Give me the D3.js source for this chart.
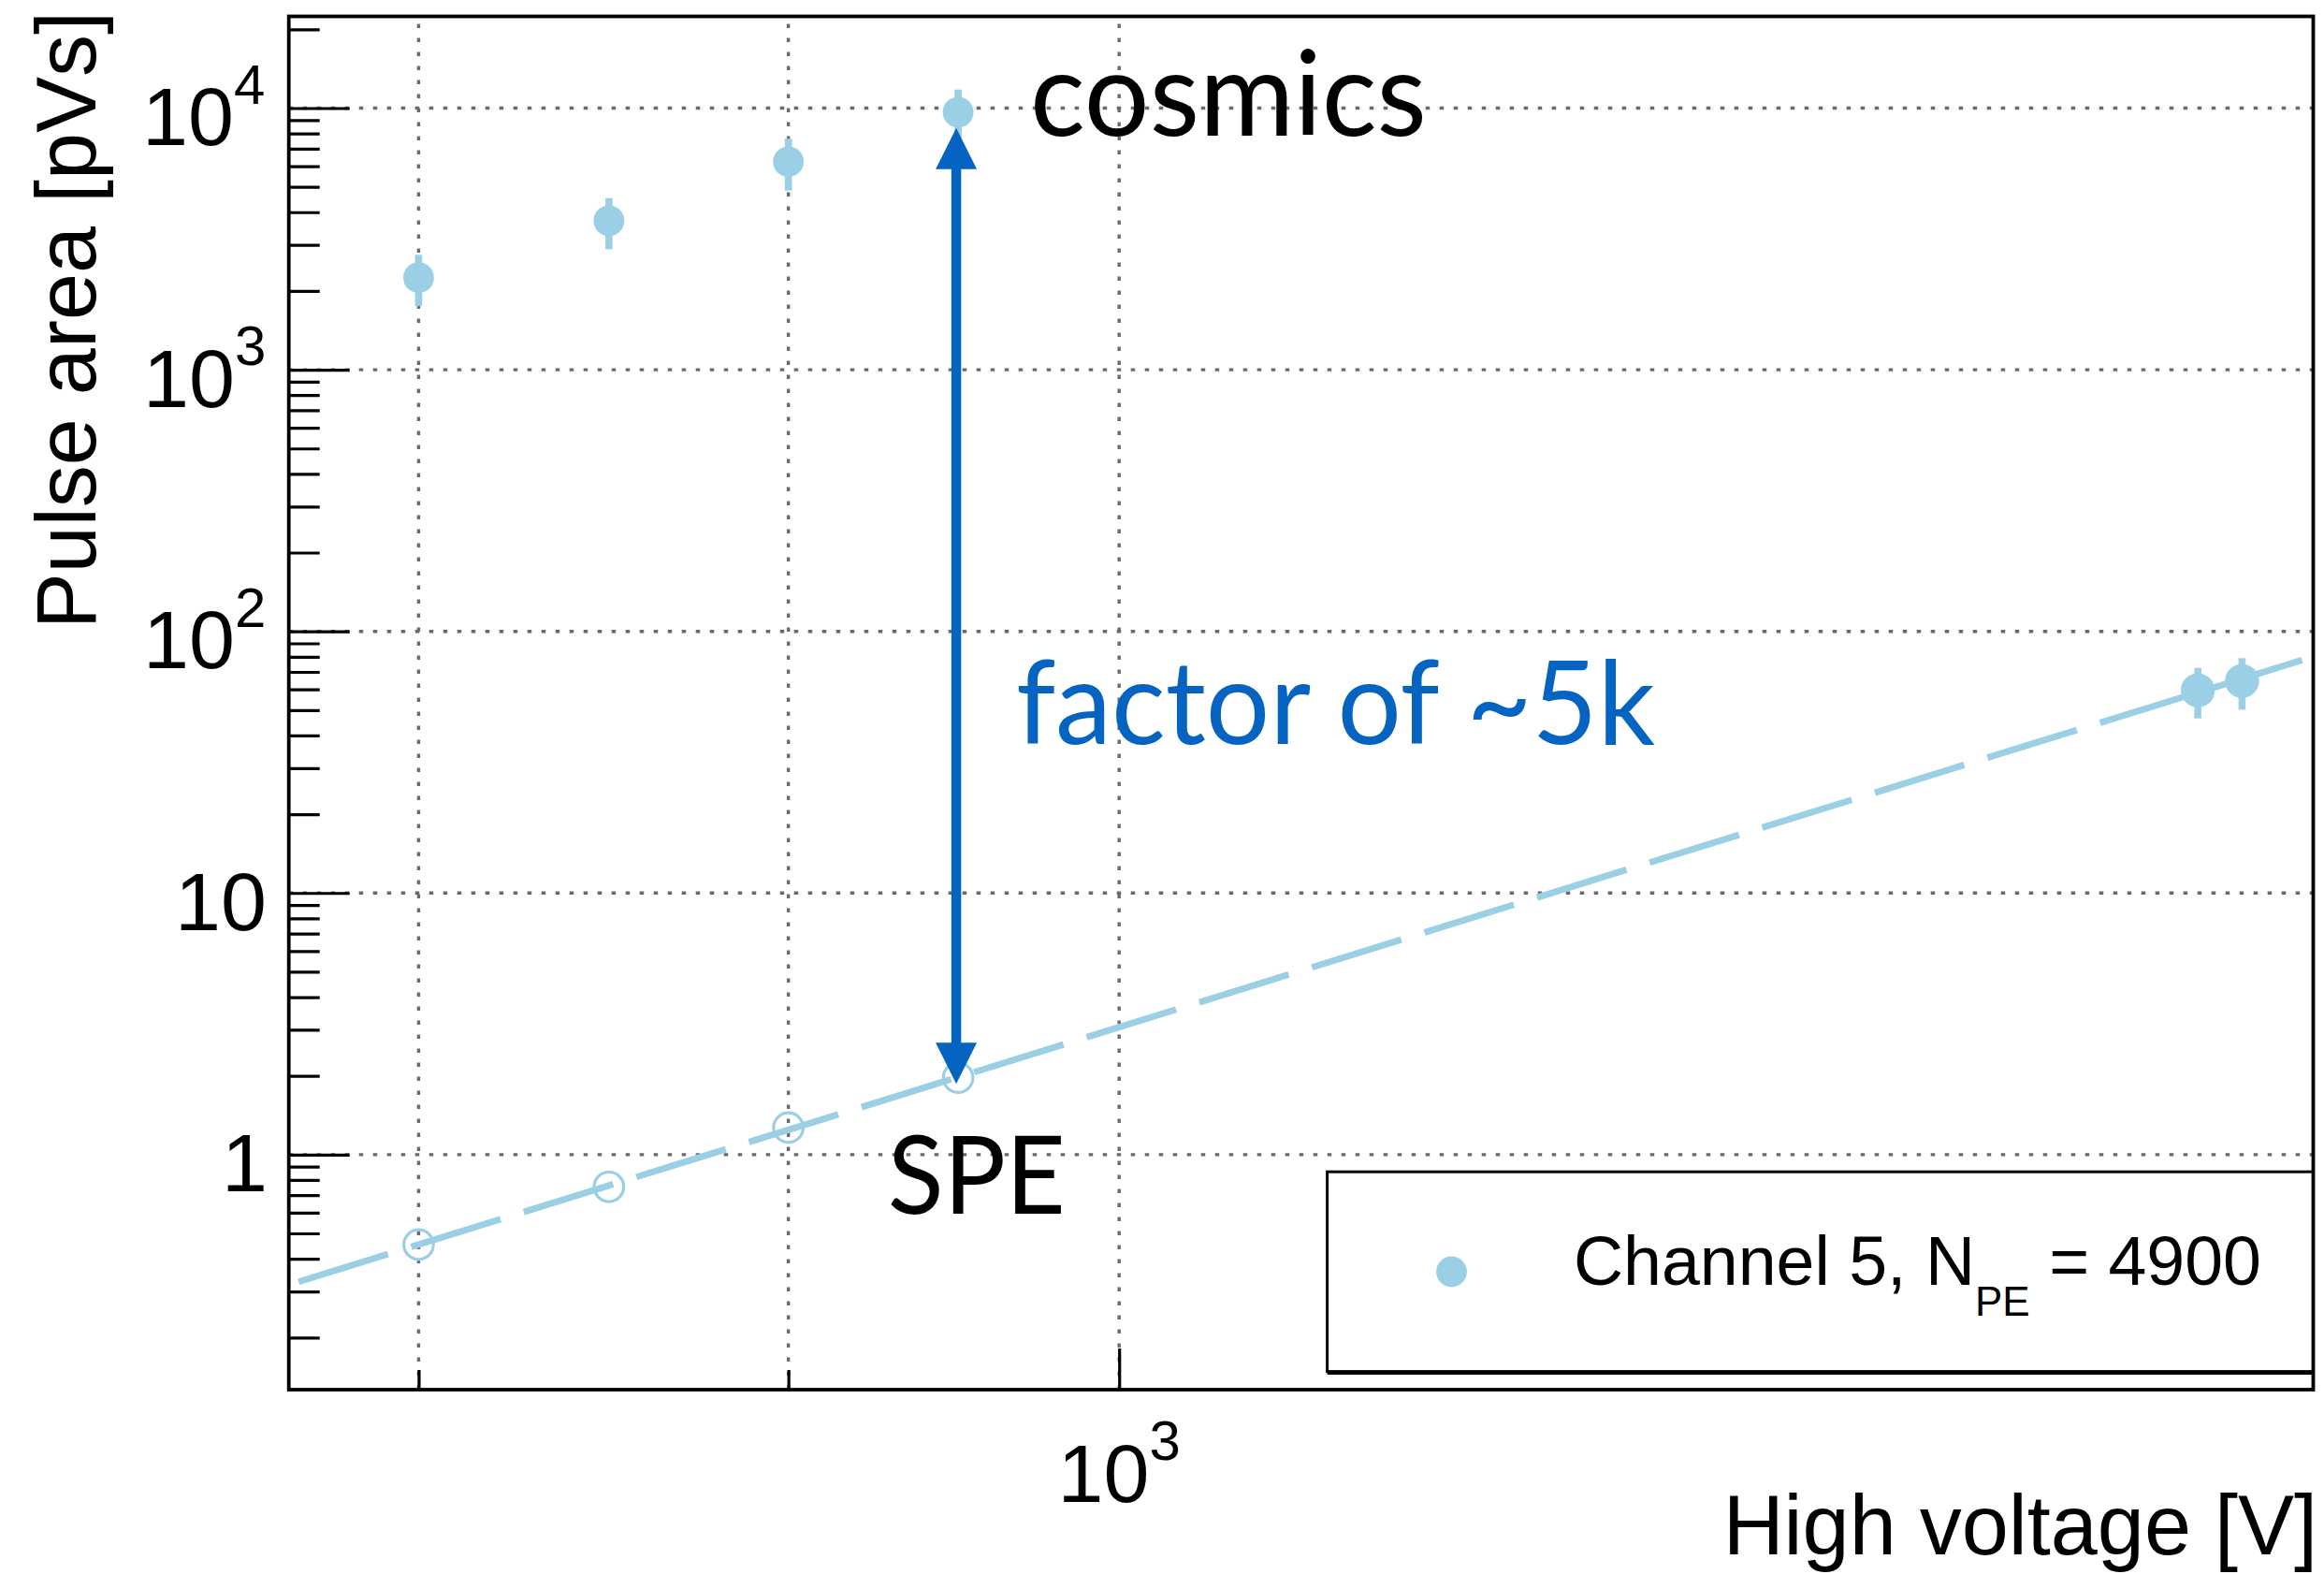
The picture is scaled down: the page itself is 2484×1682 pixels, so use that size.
<!DOCTYPE html>
<html>
<head>
<meta charset="utf-8">
<script src="https://cdn.jsdelivr.net/npm/d3@7"></script>
<style>
  html, body { margin: 0; padding: 0; background: #fff; }
  svg { display: block; }
</style>
</head>
<body>
<svg id="chart" width="2484" height="1682"></svg>
<script>
// High-voltage scan of channel 5: pulse area of cosmic-ray signals and of single photoelectrons (SPE)

// cosmic-ray pulses
const voltages = [800, 850, 900, 950];
const cosmicsArea = [2250, 3710, 6240, 9640];
const cosmicsErr = [500, 820, 1400, 2130];

// measured single-photoelectron pulses
const speVoltages = [1410, 1430];
const speArea = [59.5, 64.6];
const speErr = [13.0, 14.4];

// SPE area extrapolated to the cosmics voltages
const speExtrapolated = [0.453, 0.753, 1.269, 1.968];

// power-law fit  area = fitNorm * (HV / 1000 V)^fitSlope
const fitNorm = 3.07;
const fitSlope = 8.574;
const fitRange = [770, 1458];

// axes
const xDomain = [767.6, 1462.8];
const yDomain = [0.1264, 22416];
const xGridValues = [800, 900, 1000];
const xShortTicks = [800, 900];
const xLongTicks = [1000];
const xTickLabels = [{ v: 1000, base: "10", exp: "3" }];
const yGridValues = [1, 10, 100, 1000, 10000];
const yTickLabels = [
  { v: 1, base: "1", exp: "" },
  { v: 10, base: "10", exp: "" },
  { v: 100, base: "10", exp: "2" },
  { v: 1000, base: "10", exp: "3" },
  { v: 10000, base: "10", exp: "4" }
];

const xTitle = "High voltage [V]";
const yTitle = "Pulse area [pVs]";
const legendMain = "Channel 5, N";
const legendSub = "PE";
const legendTail = " = 4900";

const colSeries = "#9acfe6";
const colArrow = "#0563c1";
const colGrid = "#6a6a6a";
const sansRoot = "'Liberation Sans', Arial, Helvetica, sans-serif";
const sansNote = "Lato, 'Open Sans', sans-serif";

const frame = { left: 308.7, right: 2472.5, top: 17.5, bottom: 1485 };

const svg = d3.select("#chart");
svg.append("rect").attr("width", 2484).attr("height", 1682).attr("fill", "#fff");

const x = d3.scaleLog().domain(xDomain).range([frame.left, frame.right]);
const y = d3.scaleLog().domain(yDomain).range([frame.bottom, frame.top]);

// text measurement helper (ink extents)
const ctx = document.createElement("canvas").getContext("2d");
function measure(str, font) {
  ctx.font = font;
  const m = ctx.measureText(str);
  return { adv: m.width, left: -m.actualBoundingBoxLeft, right: m.actualBoundingBoxRight };
}
function rsb(str, px, fam) {
  const m = measure(str, `${px}px ${fam}`);
  return m.adv - m.right;
}

// ---- grid ----
const grid = svg.append("g")
  .attr("stroke", colGrid).attr("stroke-width", 3.4)
  .attr("stroke-dasharray", "4.5 10.5").attr("fill", "none");
grid.selectAll("line.h").data(yGridValues).join("line")
  .attr("x1", frame.left).attr("x2", frame.right)
  .attr("y1", d => y(d)).attr("y2", d => y(d));
grid.selectAll("line.v").data(xGridValues).join("line")
  .attr("x1", d => x(d)).attr("x2", d => x(d))
  .attr("y1", frame.bottom).attr("y2", frame.top);

// ---- fit line ----
const fit = v => fitNorm * Math.pow(v / 1000, fitSlope);
svg.append("path")
  .datum(fitRange)
  .attr("d", d3.line().x(d => x(d)).y(d => y(fit(d))))
  .attr("fill", "none").attr("stroke", colSeries)
  .attr("stroke-width", 7).attr("stroke-dasharray", "100 26");

// ---- measured points with error bars ----
const cosmics = voltages.map((v, i) => ({ v, a: cosmicsArea[i], e: cosmicsErr[i] }));
const spe = speVoltages.map((v, i) => ({ v, a: speArea[i], e: speErr[i] }));

function drawPoints(data, r) {
  const g = svg.append("g");
  g.selectAll("line").data(data).join("line")
    .attr("x1", d => x(d.v)).attr("x2", d => x(d.v))
    .attr("y1", d => y(d.a + d.e)).attr("y2", d => y(d.a - d.e))
    .attr("stroke", colSeries).attr("stroke-width", 7.6);
  g.selectAll("circle").data(data).join("circle")
    .attr("cx", d => x(d.v)).attr("cy", d => y(d.a)).attr("r", r)
    .attr("fill", colSeries);
}
drawPoints(cosmics, 16.4);
drawPoints(spe, 18.2);

// ---- extrapolated SPE (open markers) ----
svg.append("g").selectAll("circle")
  .data(voltages.map((v, i) => ({ v, a: speExtrapolated[i] })))
  .join("circle")
  .attr("cx", d => x(d.v)).attr("cy", d => y(d.a)).attr("r", 15.8)
  .attr("fill", "none").attr("stroke", colSeries).attr("stroke-width", 3.2);

// ---- double arrow between cosmics and SPE at 950 V ----
{
  const ax = x(voltages[3]) - 2;
  const yTop = y(cosmicsArea[3]) + 16.8;
  const yBot = y(speExtrapolated[3]) + 6.5;
  const hl = 44, hw = 22;
  const g = svg.append("g").attr("fill", colArrow);
  g.append("line").attr("x1", ax).attr("x2", ax).attr("y1", yTop + hl - 2).attr("y2", yBot - hl + 2)
    .attr("stroke", colArrow).attr("stroke-width", 10.5);
  g.append("path").attr("d", `M${ax},${yTop} L${ax + hw},${yTop + hl} L${ax - hw},${yTop + hl} Z`);
  g.append("path").attr("d", `M${ax},${yBot} L${ax + hw},${yBot - hl} L${ax - hw},${yBot - hl} Z`);
}

// ---- annotations (ink box fitted) ----
function note(str, fill, px, inkLeft, inkRight, baseline) {
  const m = measure(str, `${px}px ${sansNote}`);
  const s = (inkRight - inkLeft) / (m.right - m.left);
  svg.append("text")
    .attr("x", inkLeft - s * m.left).attr("y", baseline)
    .attr("font-family", sansNote).attr("font-size", px)
    .attr("fill", fill)
    .attr("textLength", m.adv * s).attr("lengthAdjust", "spacingAndGlyphs")
    .text(str);
}
note("cosmics", "#000", 126, 1106, 1520.5, 145);
note("factor of ~5k", colArrow, 124, 1088, 1769, 795);
note("SPE", "#000", 117, 951.6, 1134.6, 1296.7);

// ---- axes ticks ----
const yMinor = [];
for (let e = -1; e <= 4; e++) for (let m = 2; m <= 9; m++) {
  const v = m * Math.pow(10, e);
  if (v > yDomain[0] && v < yDomain[1]) yMinor.push(v);
}
function styleAxis(g) {
  g.select(".domain").remove();
  g.selectAll(".tick text").remove();
  g.selectAll(".tick line").attr("stroke", "#000").attr("stroke-width", 3.2);
}
svg.append("g").attr("transform", `translate(${frame.left},0)`)
  .call(d3.axisLeft(y).tickValues(yMinor).tickSize(-33).tickFormat(""))
  .call(styleAxis);
svg.append("g").attr("transform", `translate(${frame.left},0)`)
  .call(d3.axisLeft(y).tickValues(yGridValues).tickSize(-65).tickFormat(""))
  .call(styleAxis);
svg.append("g").attr("transform", `translate(0,${frame.bottom})`)
  .call(d3.axisBottom(x).tickValues(xShortTicks).tickSize(-21).tickFormat(""))
  .call(styleAxis);
svg.append("g").attr("transform", `translate(0,${frame.bottom})`)
  .call(d3.axisBottom(x).tickValues(xLongTicks).tickSize(-44).tickFormat(""))
  .call(styleAxis);

// ---- tick labels ----
const labPx = 88, expPx = 60;
yTickLabels.forEach(d => {
  const last = d.exp ? d.exp.slice(-1) : d.base.slice(-1);
  const shift = rsb(last, d.exp ? expPx : labPx, sansRoot);
  const t = svg.append("text")
    .attr("x", 282 + shift).attr("y", y(d.v) + 39.5)
    .attr("text-anchor", "end")
    .attr("font-family", sansRoot).attr("font-size", labPx).attr("fill", "#000");
  t.append("tspan").text(d.base);
  if (d.exp) t.append("tspan").attr("font-size", expPx).attr("dy", -44.5).text(d.exp);
});
xTickLabels.forEach(d => {
  const t = svg.append("text")
    .attr("x", x(d.v)).attr("y", 1605)
    .attr("text-anchor", "middle")
    .attr("font-family", sansRoot).attr("font-size", labPx).attr("fill", "#000");
  t.append("tspan").text(d.base);
  t.append("tspan").attr("font-size", expPx).attr("dy", -45).text(d.exp);
});

// ---- axis titles ----
const titlePx = 90;
svg.append("text")
  .attr("x", 2471 + rsb("]", titlePx, sansRoot)).attr("y", 1661)
  .attr("text-anchor", "end")
  .attr("font-family", sansRoot).attr("font-size", titlePx).attr("fill", "#000")
  .text(xTitle);
svg.append("text")
  .attr("transform", `translate(101.7,${17.9 - rsb("]", titlePx, sansRoot)}) rotate(-90)`)
  .attr("text-anchor", "end")
  .attr("font-family", sansRoot).attr("font-size", titlePx).attr("fill", "#000")
  .text(yTitle);

// ---- legend ----
{
  const lx = 1418.6, ly = 1252.2, lw = frame.right - 1418.6, lh = 213.4;
  const g = svg.append("g");
  g.append("rect").attr("x", lx).attr("y", ly).attr("width", lw).attr("height", lh)
    .attr("fill", "#fff").attr("stroke", "#000").attr("stroke-width", 3);
  g.append("line").attr("x1", lx).attr("x2", lx + lw).attr("y1", ly + lh + 2).attr("y2", ly + lh + 2)
    .attr("stroke", "#000").attr("stroke-width", 3);
  g.append("circle").attr("cx", 1551.5).attr("cy", 1359).attr("r", 16.4).attr("fill", colSeries);
  const legPx = 73.5;
  const t = g.append("text")
    .attr("x", 1685 - measure("C", `${legPx}px ${sansRoot}`).left).attr("y", 1372.8)
    .attr("font-family", sansRoot).attr("font-size", legPx).attr("fill", "#000");
  t.append("tspan").text(legendMain);
  t.append("tspan").attr("font-size", 44).attr("dy", 33).text(legendSub);
  t.append("tspan").attr("dy", -33).text(legendTail);
}

// ---- frame ----
svg.append("rect")
  .attr("x", frame.left).attr("y", frame.top)
  .attr("width", frame.right - frame.left).attr("height", frame.bottom - frame.top)
  .attr("fill", "none").attr("stroke", "#000").attr("stroke-width", 3.8);
</script>
</body>
</html>
